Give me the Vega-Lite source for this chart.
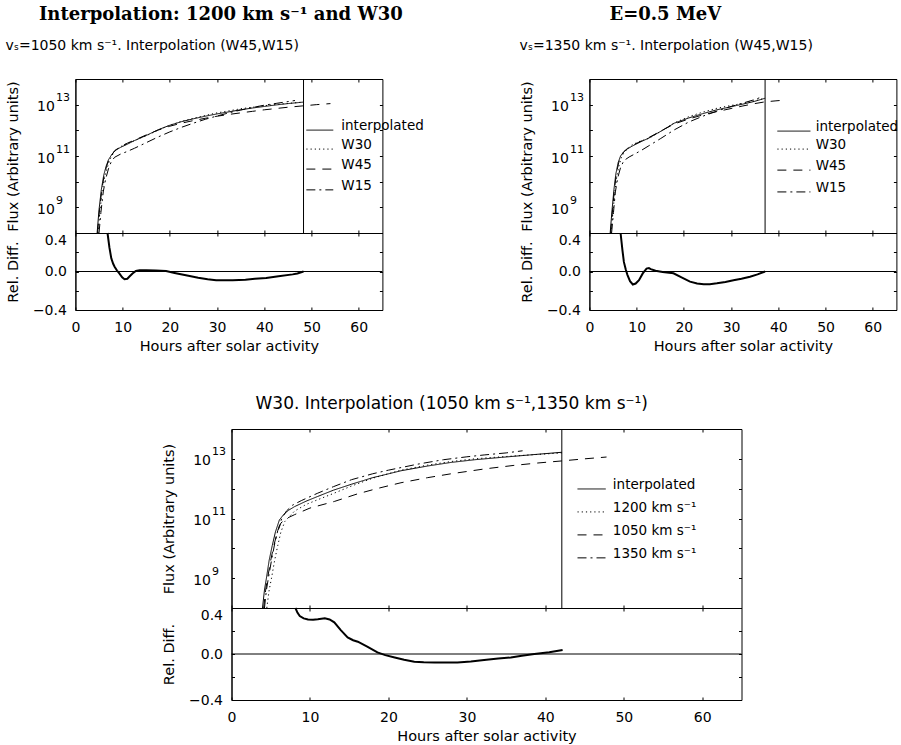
{
"$schema": "https://vega.github.io/schema/vega-lite/v6.json",
"background": "white",
"padding": {"left": 4, "top": 5, "right": 3, "bottom": 3},
"title": {"text": "Interpolation: 1200 km s⁻¹ and W30\u00a0\u00a0\u00a0\u00a0\u00a0\u00a0\u00a0\u00a0\u00a0\u00a0\u00a0\u00a0\u00a0\u00a0\u00a0\u00a0\u00a0\u00a0\u00a0\u00a0\u00a0\u00a0\u00a0\u00a0\u00a0\u00a0\u00a0\u00a0\u00a0\u00a0\u00a0\u00a0\u00a0E=0.5 MeV", "font": "DejaVu Serif", "fontWeight": "bold", "fontSize": 18, "anchor": "start", "frame": "bounds", "dx": 34, "offset": 15, "color": "black"},
"datasets": {
"tl_flux": [
{"series":"interpolated","h":4.6,"flux":1e8},{"series":"interpolated","h":5.0,"flux":7.94e8},{"series":"interpolated","h":5.5,"flux":5.01e9},{"series":"interpolated","h":6.0,"flux":1.78e10},{"series":"interpolated","h":6.5,"flux":3.98e10},{"series":"interpolated","h":7.0,"flux":7.08e10},{"series":"interpolated","h":7.5,"flux":1e11},{"series":"interpolated","h":8.3,"flux":1.58e11},{"series":"interpolated","h":9.5,"flux":2.14e11},{"series":"interpolated","h":11,"flux":2.88e11},{"series":"interpolated","h":12.5,"flux":3.98e11},{"series":"interpolated","h":15,"flux":6.31e11},{"series":"interpolated","h":17.5,"flux":1.05e12},{"series":"interpolated","h":20,"flux":1.58e12},{"series":"interpolated","h":22.5,"flux":2.19e12},{"series":"interpolated","h":25,"flux":2.82e12},{"series":"interpolated","h":27.5,"flux":3.55e12},{"series":"interpolated","h":30,"flux":4.37e12},{"series":"interpolated","h":32.5,"flux":5.25e12},{"series":"interpolated","h":35,"flux":6.31e12},{"series":"interpolated","h":37.5,"flux":7.41e12},{"series":"interpolated","h":40,"flux":8.51e12},{"series":"interpolated","h":42.5,"flux":9.77e12},{"series":"interpolated","h":45,"flux":1.10e13},{"series":"interpolated","h":48.3,"flux":1.26e13},
{"series":"W30","h":4.8,"flux":1e8},{"series":"W30","h":5.2,"flux":7.08e8},{"series":"W30","h":5.7,"flux":4.47e9},{"series":"W30","h":6.2,"flux":1.58e10},{"series":"W30","h":6.7,"flux":3.31e10},{"series":"W30","h":7.2,"flux":6.31e10},{"series":"W30","h":7.6,"flux":9.55e10},{"series":"W30","h":8.3,"flux":1.51e11},{"series":"W30","h":9.5,"flux":2.29e11},{"series":"W30","h":11,"flux":3.09e11},{"series":"W30","h":12.5,"flux":3.98e11},{"series":"W30","h":15,"flux":6.17e11},{"series":"W30","h":17.5,"flux":1.02e12},{"series":"W30","h":20,"flux":1.58e12},{"series":"W30","h":22.5,"flux":2.24e12},{"series":"W30","h":25,"flux":2.95e12},{"series":"W30","h":27.5,"flux":3.80e12},{"series":"W30","h":30,"flux":4.79e12},{"series":"W30","h":32.5,"flux":5.75e12},{"series":"W30","h":35,"flux":6.92e12},{"series":"W30","h":37.5,"flux":7.94e12},{"series":"W30","h":40,"flux":9.12e12},{"series":"W30","h":42.5,"flux":1.02e13},{"series":"W30","h":45,"flux":1.12e13},{"series":"W30","h":48.3,"flux":1.26e13},
{"series":"W45","h":4.7,"flux":1e8},{"series":"W45","h":5.1,"flux":7.94e8},{"series":"W45","h":5.6,"flux":5.01e9},{"series":"W45","h":6.1,"flux":1.78e10},{"series":"W45","h":6.6,"flux":3.98e10},{"series":"W45","h":7.1,"flux":7.08e10},{"series":"W45","h":7.6,"flux":1.05e11},{"series":"W45","h":8.4,"flux":1.66e11},{"series":"W45","h":9.5,"flux":2.29e11},{"series":"W45","h":11,"flux":3.16e11},{"series":"W45","h":12.5,"flux":4.17e11},{"series":"W45","h":15,"flux":6.61e11},{"series":"W45","h":17.5,"flux":1.02e12},{"series":"W45","h":20,"flux":1.45e12},{"series":"W45","h":22.5,"flux":1.91e12},{"series":"W45","h":25,"flux":2.40e12},{"series":"W45","h":27.5,"flux":2.95e12},{"series":"W45","h":30,"flux":3.55e12},{"series":"W45","h":32.5,"flux":4.17e12},{"series":"W45","h":35,"flux":4.79e12},{"series":"W45","h":37.5,"flux":5.50e12},{"series":"W45","h":40,"flux":6.31e12},{"series":"W45","h":42.5,"flux":7.08e12},{"series":"W45","h":45,"flux":7.94e12},{"series":"W45","h":48,"flux":8.91e12},{"series":"W45","h":51,"flux":1.0e13},{"series":"W45","h":54,"flux":1.10e13},
{"series":"W15","h":5.0,"flux":1e8},{"series":"W15","h":5.4,"flux":6.31e8},{"series":"W15","h":5.9,"flux":3.98e9},{"series":"W15","h":6.4,"flux":1.26e10},{"series":"W15","h":7.0,"flux":3.16e10},{"series":"W15","h":7.6,"flux":6.03e10},{"series":"W15","h":8.3,"flux":8.91e10},{"series":"W15","h":9.5,"flux":1.17e11},{"series":"W15","h":11,"flux":1.51e11},{"series":"W15","h":12.5,"flux":2.0e11},{"series":"W15","h":15,"flux":3.31e11},{"series":"W15","h":17.5,"flux":5.50e11},{"series":"W15","h":20,"flux":8.71e11},{"series":"W15","h":22.5,"flux":1.32e12},{"series":"W15","h":25,"flux":1.91e12},{"series":"W15","h":27.5,"flux":2.69e12},{"series":"W15","h":30,"flux":3.63e12},{"series":"W15","h":32.5,"flux":4.79e12},{"series":"W15","h":35,"flux":6.17e12},{"series":"W15","h":37.5,"flux":7.76e12},{"series":"W15","h":40,"flux":9.55e12},{"series":"W15","h":42.5,"flux":1.12e13},{"series":"W15","h":45,"flux":1.32e13},{"series":"W15","h":46.5,"flux":1.45e13}
],
"tl_rel": [
{"h":6.8,"rel":0.4},{"h":7.2,"rel":0.25},{"h":7.6,"rel":0.137},{"h":8.0,"rel":0.08},{"h":8.3,"rel":0.05},{"h":8.8,"rel":0.01},{"h":9.3,"rel":-0.02},{"h":9.9,"rel":-0.06},{"h":10.4,"rel":-0.08},{"h":11,"rel":-0.075},{"h":11.5,"rel":-0.05},{"h":12.1,"rel":-0.02},{"h":12.8,"rel":0.005},{"h":13.6,"rel":0.014},{"h":15,"rel":0.014},{"h":17,"rel":0.01},{"h":19.2,"rel":0.004},{"h":21,"rel":-0.015},{"h":23.4,"rel":-0.04},{"h":26,"rel":-0.065},{"h":28,"rel":-0.08},{"h":29.8,"rel":-0.09},{"h":33.3,"rel":-0.09},{"h":36,"rel":-0.085},{"h":38,"rel":-0.075},{"h":40.4,"rel":-0.067},{"h":43,"rel":-0.05},{"h":46,"rel":-0.03},{"h":47,"rel":-0.02},{"h":48.3,"rel":0}
],
"tl_marker": [{"h":48.3}],
"tl_legend": [
{"label":"interpolated","series":"interpolated","h1":48.9,"h2":54.6,"ht":56.3,"flux":1.02e12},
{"label":"W30","series":"W30","h1":48.9,"h2":54.6,"ht":56.3,"flux":1.86e11},
{"label":"W45","series":"W45","h1":48.9,"h2":54.6,"ht":56.3,"flux":3.09e10},
{"label":"W15","series":"W15","h1":48.9,"h2":54.6,"ht":56.3,"flux":4.79e9}
],
"tr_flux": [
{"series":"interpolated","h":4.4,"flux":1e8},{"series":"interpolated","h":4.8,"flux":7.94e8},{"series":"interpolated","h":5.2,"flux":5.01e9},{"series":"interpolated","h":5.6,"flux":2.0e10},{"series":"interpolated","h":6.1,"flux":5.62e10},{"series":"interpolated","h":6.6,"flux":1e11},{"series":"interpolated","h":7.2,"flux":1.41e11},{"series":"interpolated","h":8.0,"flux":1.86e11},{"series":"interpolated","h":9.0,"flux":2.40e11},{"series":"interpolated","h":10.5,"flux":3.31e11},{"series":"interpolated","h":12.6,"flux":5.01e11},{"series":"interpolated","h":15,"flux":8.91e11},{"series":"interpolated","h":18,"flux":1.91e12},{"series":"interpolated","h":21,"flux":3.02e12},{"series":"interpolated","h":24,"flux":4.47e12},{"series":"interpolated","h":27,"flux":6.31e12},{"series":"interpolated","h":30,"flux":8.32e12},{"series":"interpolated","h":32.5,"flux":1.05e13},{"series":"interpolated","h":35,"flux":1.35e13},{"series":"interpolated","h":37.2,"flux":1.78e13},
{"series":"W30","h":4.6,"flux":1e8},{"series":"W30","h":5.0,"flux":7.08e8},{"series":"W30","h":5.4,"flux":3.98e9},{"series":"W30","h":5.8,"flux":1.58e10},{"series":"W30","h":6.3,"flux":4.47e10},{"series":"W30","h":6.8,"flux":8.91e10},{"series":"W30","h":7.3,"flux":1.32e11},{"series":"W30","h":8.0,"flux":1.86e11},{"series":"W30","h":9.0,"flux":2.69e11},{"series":"W30","h":10.5,"flux":3.63e11},{"series":"W30","h":12.6,"flux":4.90e11},{"series":"W30","h":15,"flux":8.91e11},{"series":"W30","h":18,"flux":1.95e12},{"series":"W30","h":21,"flux":3.39e12},{"series":"W30","h":24,"flux":5.13e12},{"series":"W30","h":27,"flux":7.24e12},{"series":"W30","h":30,"flux":9.33e12},{"series":"W30","h":32.5,"flux":1.12e13},{"series":"W30","h":35,"flux":1.41e13},{"series":"W30","h":37.2,"flux":1.78e13},
{"series":"W45","h":4.5,"flux":1e8},{"series":"W45","h":4.9,"flux":7.94e8},{"series":"W45","h":5.3,"flux":5.01e9},{"series":"W45","h":5.7,"flux":2.0e10},{"series":"W45","h":6.2,"flux":5.62e10},{"series":"W45","h":6.7,"flux":1e11},{"series":"W45","h":7.3,"flux":1.48e11},{"series":"W45","h":8.1,"flux":2.0e11},{"series":"W45","h":9.0,"flux":2.51e11},{"series":"W45","h":10.5,"flux":3.47e11},{"series":"W45","h":12.6,"flux":5.25e11},{"series":"W45","h":15,"flux":9.12e11},{"series":"W45","h":18,"flux":1.78e12},{"series":"W45","h":21,"flux":2.75e12},{"series":"W45","h":24,"flux":3.98e12},{"series":"W45","h":27,"flux":5.37e12},{"series":"W45","h":30,"flux":7.08e12},{"series":"W45","h":32.5,"flux":8.91e12},{"series":"W45","h":35,"flux":1.10e13},{"series":"W45","h":37.2,"flux":1.29e13},{"series":"W45","h":39.5,"flux":1.41e13},{"series":"W45","h":41.5,"flux":1.51e13},
{"series":"W15","h":4.7,"flux":1e8},{"series":"W15","h":5.1,"flux":6.31e8},{"series":"W15","h":5.5,"flux":3.98e9},{"series":"W15","h":6.0,"flux":1.41e10},{"series":"W15","h":6.6,"flux":3.55e10},{"series":"W15","h":7.3,"flux":6.61e10},{"series":"W15","h":8.4,"flux":9.12e10},{"series":"W15","h":9.5,"flux":1.17e11},{"series":"W15","h":11,"flux":1.66e11},{"series":"W15","h":12.6,"flux":2.51e11},{"series":"W15","h":15,"flux":4.68e11},{"series":"W15","h":18,"flux":1.05e12},{"series":"W15","h":21,"flux":2.09e12},{"series":"W15","h":24,"flux":3.55e12},{"series":"W15","h":27,"flux":5.62e12},{"series":"W15","h":30,"flux":8.51e12},{"series":"W15","h":32.5,"flux":1.15e13},{"series":"W15","h":35,"flux":1.58e13},{"series":"W15","h":36.5,"flux":2.0e13}
],
"tr_rel": [
{"h":6.6,"rel":0.4},{"h":7.0,"rel":0.22},{"h":7.3,"rel":0.1},{"h":7.7,"rel":0.02},{"h":8.05,"rel":-0.035},{"h":8.6,"rel":-0.1},{"h":9.2,"rel":-0.135},{"h":9.8,"rel":-0.125},{"h":10.5,"rel":-0.09},{"h":11.3,"rel":-0.02},{"h":12.1,"rel":0.03},{"h":12.6,"rel":0.035},{"h":13,"rel":0.025},{"h":14,"rel":0.008},{"h":15.5,"rel":-0.005},{"h":17.8,"rel":-0.018},{"h":19.5,"rel":-0.06},{"h":21.3,"rel":-0.105},{"h":22.8,"rel":-0.125},{"h":24.2,"rel":-0.133},{"h":25.5,"rel":-0.132},{"h":27,"rel":-0.123},{"h":28.8,"rel":-0.108},{"h":30.5,"rel":-0.09},{"h":32.2,"rel":-0.075},{"h":34,"rel":-0.055},{"h":35.6,"rel":-0.03},{"h":37.2,"rel":0}
],
"tr_marker": [{"h":37.2}],
"tr_legend": [
{"label":"interpolated","series":"interpolated","h1":39.8,"h2":46.8,"ht":47.9,"flux":9.33e11},
{"label":"W30","series":"W30","h1":39.8,"h2":46.8,"ht":47.9,"flux":1.86e11},
{"label":"W45","series":"W45","h1":39.8,"h2":46.8,"ht":47.9,"flux":2.82e10},
{"label":"W15","series":"W15","h1":39.8,"h2":46.8,"ht":47.9,"flux":3.98e9}
],
"b_flux": [
{"series":"interpolated","h":3.95,"flux":1e8},{"series":"interpolated","h":4.2,"flux":3.98e8},{"series":"interpolated","h":4.45,"flux":1e9},{"series":"interpolated","h":4.8,"flux":3.98e9},{"series":"interpolated","h":5.2,"flux":1.26e10},{"series":"interpolated","h":5.6,"flux":3.55e10},{"series":"interpolated","h":6.1,"flux":8.91e10},{"series":"interpolated","h":6.7,"flux":1.41e11},{"series":"interpolated","h":7.3,"flux":1.91e11},{"series":"interpolated","h":8.05,"flux":2.51e11},{"series":"interpolated","h":9.5,"flux":3.80e11},{"series":"interpolated","h":11,"flux":5.50e11},{"series":"interpolated","h":13,"flux":8.91e11},{"series":"interpolated","h":15.3,"flux":1.41e12},{"series":"interpolated","h":18,"flux":2.34e12},{"series":"interpolated","h":21.6,"flux":3.98e12},{"series":"interpolated","h":25,"flux":5.75e12},{"series":"interpolated","h":28,"flux":7.59e12},{"series":"interpolated","h":31,"flux":9.33e12},{"series":"interpolated","h":34.4,"flux":1.12e13},{"series":"interpolated","h":38,"flux":1.35e13},{"series":"interpolated","h":42.1,"flux":1.66e13},
{"series":"1200","h":4.5,"flux":1e8},{"series":"1200","h":4.8,"flux":3.98e8},{"series":"1200","h":5.1,"flux":1e9},{"series":"1200","h":5.5,"flux":3.98e9},{"series":"1200","h":5.9,"flux":1.26e10},{"series":"1200","h":6.3,"flux":3.55e10},{"series":"1200","h":6.8,"flux":7.94e10},{"series":"1200","h":7.5,"flux":1.26e11},{"series":"1200","h":8.05,"flux":1.78e11},{"series":"1200","h":9.5,"flux":2.95e11},{"series":"1200","h":11,"flux":4.27e11},{"series":"1200","h":13,"flux":6.92e11},{"series":"1200","h":15.3,"flux":1.23e12},{"series":"1200","h":18,"flux":2.24e12},{"series":"1200","h":21.6,"flux":4.17e12},{"series":"1200","h":25,"flux":6.17e12},{"series":"1200","h":28,"flux":8.13e12},{"series":"1200","h":31,"flux":1e13},{"series":"1200","h":34.4,"flux":1.17e13},{"series":"1200","h":38,"flux":1.35e13},{"series":"1200","h":42.1,"flux":1.58e13},
{"series":"1050","h":4.1,"flux":1e8},{"series":"1050","h":4.35,"flux":3.98e8},{"series":"1050","h":4.6,"flux":1e9},{"series":"1050","h":5.0,"flux":3.98e9},{"series":"1050","h":5.4,"flux":1.26e10},{"series":"1050","h":5.8,"flux":3.16e10},{"series":"1050","h":6.3,"flux":7.08e10},{"series":"1050","h":7.0,"flux":1e11},{"series":"1050","h":8.05,"flux":1.35e11},{"series":"1050","h":10,"flux":2.24e11},{"series":"1050","h":13.1,"flux":3.72e11},{"series":"1050","h":16,"flux":6.61e11},{"series":"1050","h":18.5,"flux":1e12},{"series":"1050","h":21.6,"flux":1.58e12},{"series":"1050","h":25,"flux":2.34e12},{"series":"1050","h":28,"flux":3.16e12},{"series":"1050","h":32.2,"flux":4.57e12},{"series":"1050","h":36,"flux":6.03e12},{"series":"1050","h":39,"flux":7.24e12},{"series":"1050","h":42.1,"flux":8.51e12},{"series":"1050","h":45,"flux":1e13},{"series":"1050","h":47.8,"flux":1.15e13},
{"series":"1350","h":4.2,"flux":1e8},{"series":"1350","h":4.45,"flux":3.98e8},{"series":"1350","h":4.7,"flux":1e9},{"series":"1350","h":5.1,"flux":3.98e9},{"series":"1350","h":5.5,"flux":1.41e10},{"series":"1350","h":5.9,"flux":3.98e10},{"series":"1350","h":6.4,"flux":1e11},{"series":"1350","h":7.0,"flux":1.78e11},{"series":"1350","h":7.8,"flux":2.82e11},{"series":"1350","h":8.9,"flux":3.98e11},{"series":"1350","h":11,"flux":7.08e11},{"series":"1350","h":13,"flux":1.17e12},{"series":"1350","h":15.3,"flux":2.0e12},{"series":"1350","h":18,"flux":3.16e12},{"series":"1350","h":20,"flux":4.17e12},{"series":"1350","h":23.7,"flux":6.61e12},{"series":"1350","h":27,"flux":9.33e12},{"series":"1350","h":30,"flux":1.17e13},{"series":"1350","h":32.2,"flux":1.35e13},{"series":"1350","h":35,"flux":1.58e13},{"series":"1350","h":37.1,"flux":1.86e13}
],
"b_rel": [
{"h":8.15,"rel":0.4},{"h":8.4,"rel":0.36},{"h":8.7,"rel":0.33},{"h":9.2,"rel":0.31},{"h":9.75,"rel":0.3},{"h":10.4,"rel":0.298},{"h":11,"rel":0.302},{"h":11.9,"rel":0.31},{"h":12.5,"rel":0.3},{"h":13.1,"rel":0.275},{"h":13.9,"rel":0.21},{"h":14.8,"rel":0.145},{"h":15.5,"rel":0.12},{"h":16.1,"rel":0.107},{"h":17.3,"rel":0.065},{"h":18.6,"rel":0.014},{"h":19.6,"rel":-0.01},{"h":20.8,"rel":-0.03},{"h":22,"rel":-0.05},{"h":23.3,"rel":-0.067},{"h":24.5,"rel":-0.072},{"h":25.9,"rel":-0.073},{"h":28.8,"rel":-0.073},{"h":30.5,"rel":-0.065},{"h":32.2,"rel":-0.052},{"h":34,"rel":-0.04},{"h":35.6,"rel":-0.03},{"h":37,"rel":-0.015},{"h":38.6,"rel":0},{"h":40.5,"rel":0.015},{"h":42.2,"rel":0.035}
],
"b_marker": [{"h":42.1}],
"b_legend": [
{"label":"interpolated","series":"interpolated","h1":44.1,"h2":47.7,"ht":48.6,"flux":9.77e11},
{"label":"1200 km s⁻¹","series":"1200","h1":44.1,"h2":47.7,"ht":48.6,"flux":1.66e11},
{"label":"1050 km s⁻¹","series":"1050","h1":44.1,"h2":47.7,"ht":48.6,"flux":2.82e10},
{"label":"1350 km s⁻¹","series":"1350","h1":44.1,"h2":47.7,"ht":48.6,"flux":4.79e9}
]
},
"vconcat": [
{"hconcat": [
{
"width": 307, "height": 231,
"title": {"text": "vₛ=1050 km s⁻¹. Interpolation (W45,W15)", "anchor": "start", "frame": "bounds", "fontSize": 14, "offset": 21},
"resolve": {"scale": {"y": "independent"}, "axis": {"x": "independent", "y": "independent"}},
"layer": [
{"data": {"name": "tl_flux"}, "mark": {"type": "line", "color": "black", "strokeWidth": 1, "clip": true},
 "encoding": {
  "x": {"field": "h", "type": "quantitative", "scale": {"domain": [0,65], "nice": false, "zero": false}, "axis": {"orient": "bottom", "values": [0,10,20,30,40,50,60], "format": "d", "title": "Hours after solar activity", "labelPadding": 13, "titlePadding": 5}},
  "y": {"field": "flux", "type": "quantitative", "scale": {"type": "log", "domain": [1e8,1e14], "range": [154,0], "nice": false}, "axis": {"orient": "left", "values": [1e8,1e9,1e10,1e11,1e12,1e13,1e14], "labelExpr": "(datum.value > 5e8 && datum.value < 2e9) || (datum.value > 5e10 && datum.value < 2e11) || (datum.value > 5e12 && datum.value < 2e13) ? '10' : ''", "labelPadding": 24, "labelOffset": 2, "title": "Flux (Arbitrary units)", "titleX": -62, "titleBaseline": "middle"}},
  "strokeDash": {"field": "series", "type": "nominal", "scale": {"domain": ["interpolated","W30","W45","W15"], "range": [[1,0],[1.2,3],[9,7],[9,4,2,4]]}, "legend": null}
 }},
{"data": {"name": "tl_flux"}, "mark": {"type": "point", "opacity": 0},
 "encoding": {
  "x": {"field": "h", "type": "quantitative", "scale": {"domain": [0,65], "nice": false, "zero": false}, "axis": {"orient": "top", "values": [0,10,20,30,40,50,60], "labels": false, "title": null, "domain": false}},
  "y": {"field": "flux", "type": "quantitative", "scale": {"type": "log", "domain": [1e8,1e14], "range": [154,0], "nice": false}, "axis": {"orient": "right", "values": [1e8,1e9,1e10,1e11,1e12,1e13,1e14], "labels": false, "title": null, "domain": false}}
 }},
{"data": {"name": "tl_flux"}, "mark": {"type": "point", "opacity": 0},
 "encoding": {
  "y": {"field": "flux", "type": "quantitative", "scale": {"type": "log", "domain": [1e8,1e14], "range": [154,0], "nice": false}, "axis": {"orient": "left", "values": [1e9,1e11,1e13], "labelExpr": "datum.value < 2e9 ? '9' : datum.value < 2e11 ? '11' : '13'", "ticks": false, "domain": false, "labelAlign": "left", "labelPadding": 20, "labelOffset": -7, "labelFontSize": 11, "title": null}}
 }},
{"data": {"name": "tl_rel"}, "mark": {"type": "line", "color": "black", "strokeWidth": 2, "clip": true},
 "encoding": {
  "x": {"field": "h", "type": "quantitative", "scale": {"domain": [0,65], "nice": false, "zero": false}, "axis": {"orient": "top", "offset": -154, "values": [0,10,20,30,40,50,60], "labels": false, "title": null, "domain": true}},
  "y": {"field": "rel", "type": "quantitative", "scale": {"domain": [-0.4,0.4], "range": [231,154], "nice": false, "zero": false}, "axis": {"orient": "left", "values": [-0.4,-0.2,0,0.2,0.4], "labelExpr": "abs(datum.value) > 0.1 && abs(datum.value) < 0.3 ? '' : format(datum.value, '.1f')", "labelBaseline": {"condition": {"test": "datum.value > 0.3", "value": "top"}, "value": "middle"}, "labelPadding": 12, "title": "Rel. Diff.", "titleX": -62, "titleBaseline": "middle"}}
 }},
{"data": {"name": "tl_rel"}, "mark": {"type": "point", "opacity": 0},
 "encoding": {
  "x": {"field": "h", "type": "quantitative", "scale": {"domain": [0,65], "nice": false, "zero": false}, "axis": {"orient": "bottom", "offset": -77, "values": [0,10,20,30,40,50,60], "labels": false, "title": null, "domain": false}},
  "y": {"field": "rel", "type": "quantitative", "scale": {"domain": [-0.4,0.4], "range": [231,154], "nice": false, "zero": false}, "axis": {"orient": "right", "values": [-0.4,-0.2,0,0.2,0.4], "labels": false, "title": null, "domain": false}}
 }},
{"data": {"values": [{"rel": 0}]}, "mark": {"type": "rule", "color": "black", "strokeWidth": 1},
 "encoding": {"y": {"field": "rel", "type": "quantitative", "scale": {"domain": [-0.4,0.4], "range": [231,154], "nice": false, "zero": false}, "axis": null}}},
{"data": {"name": "tl_marker"}, "mark": {"type": "rule", "color": "black", "strokeWidth": 1},
 "encoding": {
  "x": {"field": "h", "type": "quantitative", "scale": {"domain": [0,65], "nice": false, "zero": false}, "axis": null},
  "y": {"datum": 1e14, "type": "quantitative", "scale": {"type": "log", "domain": [1e8,1e14], "range": [154,0], "nice": false}, "axis": null},
  "y2": {"datum": 1e8}
 }},
{"data": {"name": "tl_legend"}, "mark": {"type": "rule", "color": "black", "strokeWidth": 1},
 "encoding": {
  "x": {"field": "h1", "type": "quantitative", "scale": {"domain": [0,65], "nice": false, "zero": false}, "axis": null},
  "x2": {"field": "h2"},
  "y": {"field": "flux", "type": "quantitative", "scale": {"type": "log", "domain": [1e8,1e14], "range": [154,0], "nice": false}, "axis": null},
  "strokeDash": {"field": "series", "type": "nominal", "scale": {"domain": ["interpolated","W30","W45","W15"], "range": [[1,0],[1.2,3],[9,7],[9,4,2,4]]}, "legend": null}
 }},
{"data": {"name": "tl_legend"}, "mark": {"type": "text", "align": "left", "baseline": "alphabetic", "fontSize": 13.5, "font": "DejaVu Sans", "color": "black"},
 "encoding": {
  "x": {"field": "ht", "type": "quantitative", "scale": {"domain": [0,65], "nice": false, "zero": false}, "axis": null},
  "y": {"field": "flux", "type": "quantitative", "scale": {"type": "log", "domain": [1e8,1e14], "range": [154,0], "nice": false}, "axis": null},
  "text": {"field": "label"}
 }}
]
},
{
"width": 307, "height": 231,
"title": {"text": "vₛ=1350 km s⁻¹. Interpolation (W45,W15)", "anchor": "start", "frame": "bounds", "fontSize": 14, "offset": 21},
"resolve": {"scale": {"y": "independent"}, "axis": {"x": "independent", "y": "independent"}},
"layer": [
{"data": {"name": "tr_flux"}, "mark": {"type": "line", "color": "black", "strokeWidth": 1, "clip": true},
 "encoding": {
  "x": {"field": "h", "type": "quantitative", "scale": {"domain": [0,65], "nice": false, "zero": false}, "axis": {"orient": "bottom", "values": [0,10,20,30,40,50,60], "format": "d", "title": "Hours after solar activity", "labelPadding": 13, "titlePadding": 5}},
  "y": {"field": "flux", "type": "quantitative", "scale": {"type": "log", "domain": [1e8,1e14], "range": [154,0], "nice": false}, "axis": {"orient": "left", "values": [1e8,1e9,1e10,1e11,1e12,1e13,1e14], "labelExpr": "(datum.value > 5e8 && datum.value < 2e9) || (datum.value > 5e10 && datum.value < 2e11) || (datum.value > 5e12 && datum.value < 2e13) ? '10' : ''", "labelPadding": 24, "labelOffset": 2, "title": "Flux (Arbitrary units)", "titleX": -62, "titleBaseline": "middle"}},
  "strokeDash": {"field": "series", "type": "nominal", "scale": {"domain": ["interpolated","W30","W45","W15"], "range": [[1,0],[1.2,3],[9,7],[9,4,2,4]]}, "legend": null}
 }},
{"data": {"name": "tr_flux"}, "mark": {"type": "point", "opacity": 0},
 "encoding": {
  "x": {"field": "h", "type": "quantitative", "scale": {"domain": [0,65], "nice": false, "zero": false}, "axis": {"orient": "top", "values": [0,10,20,30,40,50,60], "labels": false, "title": null, "domain": false}},
  "y": {"field": "flux", "type": "quantitative", "scale": {"type": "log", "domain": [1e8,1e14], "range": [154,0], "nice": false}, "axis": {"orient": "right", "values": [1e8,1e9,1e10,1e11,1e12,1e13,1e14], "labels": false, "title": null, "domain": false}}
 }},
{"data": {"name": "tr_flux"}, "mark": {"type": "point", "opacity": 0},
 "encoding": {
  "y": {"field": "flux", "type": "quantitative", "scale": {"type": "log", "domain": [1e8,1e14], "range": [154,0], "nice": false}, "axis": {"orient": "left", "values": [1e9,1e11,1e13], "labelExpr": "datum.value < 2e9 ? '9' : datum.value < 2e11 ? '11' : '13'", "ticks": false, "domain": false, "labelAlign": "left", "labelPadding": 20, "labelOffset": -7, "labelFontSize": 11, "title": null}}
 }},
{"data": {"name": "tr_rel"}, "mark": {"type": "line", "color": "black", "strokeWidth": 2, "clip": true},
 "encoding": {
  "x": {"field": "h", "type": "quantitative", "scale": {"domain": [0,65], "nice": false, "zero": false}, "axis": {"orient": "top", "offset": -154, "values": [0,10,20,30,40,50,60], "labels": false, "title": null, "domain": true}},
  "y": {"field": "rel", "type": "quantitative", "scale": {"domain": [-0.4,0.4], "range": [231,154], "nice": false, "zero": false}, "axis": {"orient": "left", "values": [-0.4,-0.2,0,0.2,0.4], "labelExpr": "abs(datum.value) > 0.1 && abs(datum.value) < 0.3 ? '' : format(datum.value, '.1f')", "labelBaseline": {"condition": {"test": "datum.value > 0.3", "value": "top"}, "value": "middle"}, "labelPadding": 12, "title": "Rel. Diff.", "titleX": -62, "titleBaseline": "middle"}}
 }},
{"data": {"name": "tr_rel"}, "mark": {"type": "point", "opacity": 0},
 "encoding": {
  "x": {"field": "h", "type": "quantitative", "scale": {"domain": [0,65], "nice": false, "zero": false}, "axis": {"orient": "bottom", "offset": -77, "values": [0,10,20,30,40,50,60], "labels": false, "title": null, "domain": false}},
  "y": {"field": "rel", "type": "quantitative", "scale": {"domain": [-0.4,0.4], "range": [231,154], "nice": false, "zero": false}, "axis": {"orient": "right", "values": [-0.4,-0.2,0,0.2,0.4], "labels": false, "title": null, "domain": false}}
 }},
{"data": {"values": [{"rel": 0}]}, "mark": {"type": "rule", "color": "black", "strokeWidth": 1},
 "encoding": {"y": {"field": "rel", "type": "quantitative", "scale": {"domain": [-0.4,0.4], "range": [231,154], "nice": false, "zero": false}, "axis": null}}},
{"data": {"name": "tr_marker"}, "mark": {"type": "rule", "color": "black", "strokeWidth": 1},
 "encoding": {
  "x": {"field": "h", "type": "quantitative", "scale": {"domain": [0,65], "nice": false, "zero": false}, "axis": null},
  "y": {"datum": 1e14, "type": "quantitative", "scale": {"type": "log", "domain": [1e8,1e14], "range": [154,0], "nice": false}, "axis": null},
  "y2": {"datum": 1e8}
 }},
{"data": {"name": "tr_legend"}, "mark": {"type": "rule", "color": "black", "strokeWidth": 1},
 "encoding": {
  "x": {"field": "h1", "type": "quantitative", "scale": {"domain": [0,65], "nice": false, "zero": false}, "axis": null},
  "x2": {"field": "h2"},
  "y": {"field": "flux", "type": "quantitative", "scale": {"type": "log", "domain": [1e8,1e14], "range": [154,0], "nice": false}, "axis": null},
  "strokeDash": {"field": "series", "type": "nominal", "scale": {"domain": ["interpolated","W30","W45","W15"], "range": [[1,0],[1.2,3],[9,7],[9,4,2,4]]}, "legend": null}
 }},
{"data": {"name": "tr_legend"}, "mark": {"type": "text", "align": "left", "baseline": "alphabetic", "fontSize": 13.5, "font": "DejaVu Sans", "color": "black"},
 "encoding": {
  "x": {"field": "ht", "type": "quantitative", "scale": {"domain": [0,65], "nice": false, "zero": false}, "axis": null},
  "y": {"field": "flux", "type": "quantitative", "scale": {"type": "log", "domain": [1e8,1e14], "range": [154,0], "nice": false}, "axis": null},
  "text": {"field": "label"}
 }}
]
}
], "spacing": 94},
{
"width": 510, "height": 271,
"title": {"text": "W30. Interpolation (1050 km s⁻¹,1350 km s⁻¹)", "anchor": "middle", "frame": "bounds", "fontSize": 17, "offset": 11},
"resolve": {"scale": {"y": "independent"}, "axis": {"x": "independent", "y": "independent"}},
"layer": [
{"data": {"name": "b_flux"}, "mark": {"type": "line", "color": "black", "strokeWidth": 1, "clip": true},
 "encoding": {
  "x": {"field": "h", "type": "quantitative", "scale": {"domain": [0,65], "nice": false, "zero": false}, "axis": {"orient": "bottom", "values": [0,10,20,30,40,50,60], "format": "d", "title": "Hours after solar activity", "labelPadding": 13, "titlePadding": 5}},
  "y": {"field": "flux", "type": "quantitative", "scale": {"type": "log", "domain": [1e8,1e14], "range": [179,0], "nice": false}, "axis": {"orient": "left", "values": [1e8,1e9,1e10,1e11,1e12,1e13,1e14], "labelExpr": "(datum.value > 5e8 && datum.value < 2e9) || (datum.value > 5e10 && datum.value < 2e11) || (datum.value > 5e12 && datum.value < 2e13) ? '10' : ''", "labelPadding": 24, "labelOffset": 2, "title": "Flux (Arbitrary units)", "titleX": -62, "titleBaseline": "middle"}},
  "strokeDash": {"field": "series", "type": "nominal", "scale": {"domain": ["interpolated","1200","1050","1350"], "range": [[1,0],[1.2,3],[9,7],[9,4,2,4]]}, "legend": null}
 }},
{"data": {"name": "b_flux"}, "mark": {"type": "point", "opacity": 0},
 "encoding": {
  "x": {"field": "h", "type": "quantitative", "scale": {"domain": [0,65], "nice": false, "zero": false}, "axis": {"orient": "top", "values": [0,10,20,30,40,50,60], "labels": false, "title": null, "domain": false}},
  "y": {"field": "flux", "type": "quantitative", "scale": {"type": "log", "domain": [1e8,1e14], "range": [179,0], "nice": false}, "axis": {"orient": "right", "values": [1e8,1e9,1e10,1e11,1e12,1e13,1e14], "labels": false, "title": null, "domain": false}}
 }},
{"data": {"name": "b_flux"}, "mark": {"type": "point", "opacity": 0},
 "encoding": {
  "y": {"field": "flux", "type": "quantitative", "scale": {"type": "log", "domain": [1e8,1e14], "range": [179,0], "nice": false}, "axis": {"orient": "left", "values": [1e9,1e11,1e13], "labelExpr": "datum.value < 2e9 ? '9' : datum.value < 2e11 ? '11' : '13'", "ticks": false, "domain": false, "labelAlign": "left", "labelPadding": 20, "labelOffset": -7, "labelFontSize": 11, "title": null}}
 }},
{"data": {"name": "b_rel"}, "mark": {"type": "line", "color": "black", "strokeWidth": 2, "clip": true},
 "encoding": {
  "x": {"field": "h", "type": "quantitative", "scale": {"domain": [0,65], "nice": false, "zero": false}, "axis": {"orient": "top", "offset": -179, "values": [0,10,20,30,40,50,60], "labels": false, "title": null, "domain": true}},
  "y": {"field": "rel", "type": "quantitative", "scale": {"domain": [-0.4,0.4], "range": [271,179], "nice": false, "zero": false}, "axis": {"orient": "left", "values": [-0.4,-0.2,0,0.2,0.4], "labelExpr": "abs(datum.value) > 0.1 && abs(datum.value) < 0.3 ? '' : format(datum.value, '.1f')", "labelBaseline": {"condition": {"test": "datum.value > 0.3", "value": "top"}, "value": "middle"}, "labelPadding": 12, "title": "Rel. Diff.", "titleX": -62, "titleBaseline": "middle"}}
 }},
{"data": {"name": "b_rel"}, "mark": {"type": "point", "opacity": 0},
 "encoding": {
  "x": {"field": "h", "type": "quantitative", "scale": {"domain": [0,65], "nice": false, "zero": false}, "axis": {"orient": "bottom", "offset": -92, "values": [0,10,20,30,40,50,60], "labels": false, "title": null, "domain": false}},
  "y": {"field": "rel", "type": "quantitative", "scale": {"domain": [-0.4,0.4], "range": [271,179], "nice": false, "zero": false}, "axis": {"orient": "right", "values": [-0.4,-0.2,0,0.2,0.4], "labels": false, "title": null, "domain": false}}
 }},
{"data": {"values": [{"rel": 0}]}, "mark": {"type": "rule", "color": "black", "strokeWidth": 1},
 "encoding": {"y": {"field": "rel", "type": "quantitative", "scale": {"domain": [-0.4,0.4], "range": [271,179], "nice": false, "zero": false}, "axis": null}}},
{"data": {"name": "b_marker"}, "mark": {"type": "rule", "color": "black", "strokeWidth": 1},
 "encoding": {
  "x": {"field": "h", "type": "quantitative", "scale": {"domain": [0,65], "nice": false, "zero": false}, "axis": null},
  "y": {"datum": 1e14, "type": "quantitative", "scale": {"type": "log", "domain": [1e8,1e14], "range": [179,0], "nice": false}, "axis": null},
  "y2": {"datum": 1e8}
 }},
{"data": {"name": "b_legend"}, "mark": {"type": "rule", "color": "black", "strokeWidth": 1},
 "encoding": {
  "x": {"field": "h1", "type": "quantitative", "scale": {"domain": [0,65], "nice": false, "zero": false}, "axis": null},
  "x2": {"field": "h2"},
  "y": {"field": "flux", "type": "quantitative", "scale": {"type": "log", "domain": [1e8,1e14], "range": [179,0], "nice": false}, "axis": null},
  "strokeDash": {"field": "series", "type": "nominal", "scale": {"domain": ["interpolated","1200","1050","1350"], "range": [[1,0],[1.2,3],[9,7],[9,4,2,4]]}, "legend": null}
 }},
{"data": {"name": "b_legend"}, "mark": {"type": "text", "align": "left", "baseline": "alphabetic", "fontSize": 13.5, "font": "DejaVu Sans", "color": "black"},
 "encoding": {
  "x": {"field": "ht", "type": "quantitative", "scale": {"domain": [0,65], "nice": false, "zero": false}, "axis": null},
  "y": {"field": "flux", "type": "quantitative", "scale": {"type": "log", "domain": [1e8,1e14], "range": [179,0], "nice": false}, "axis": null},
  "text": {"field": "label"}
 }}
]
}
],
"spacing": 41,
"center": true,
"resolve": {"scale": {"strokeDash": "independent"}},
"config": {
 "font": "DejaVu Sans",
 "view": {"stroke": "black", "strokeWidth": 1},
 "axis": {"domainColor": "black", "domainWidth": 1, "tickColor": "black", "tickWidth": 1, "tickSize": -3, "labelColor": "black", "titleColor": "black", "labelFont": "DejaVu Sans", "titleFont": "DejaVu Sans", "labelFontSize": 14, "titleFontSize": 14.5, "titleFontWeight": "normal", "grid": false, "labelFlush": false, "labelOverlap": false, "labelBound": false},
 "title": {"font": "DejaVu Sans", "fontWeight": "normal", "color": "black"}
}
}
